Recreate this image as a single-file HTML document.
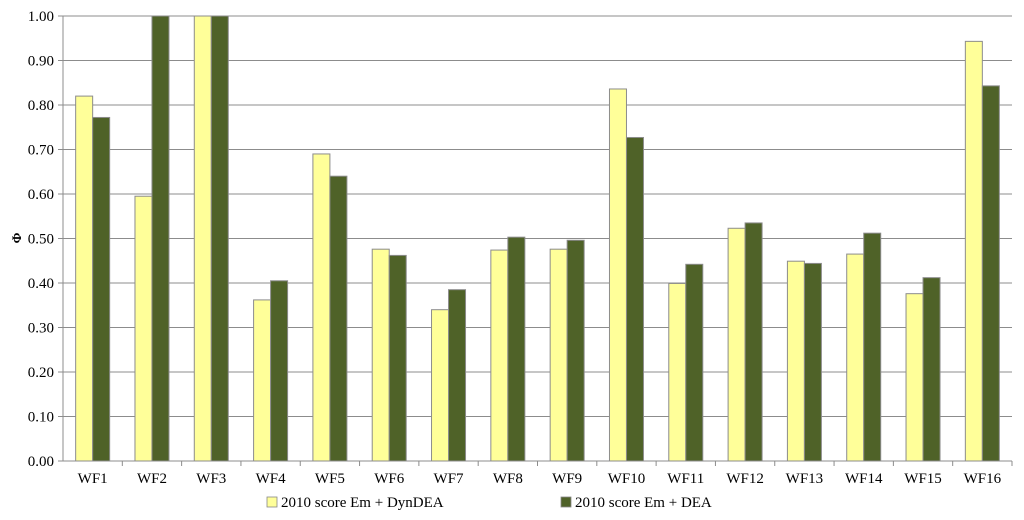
<!DOCTYPE html>
<html><head><meta charset="utf-8"><style>
html,body{margin:0;padding:0;background:#fff;width:1024px;height:520px;overflow:hidden}
svg text{font-family:"Liberation Serif","Times New Roman",serif !important;fill:#000}
</style></head><body>
<svg id="chart" width="1024" height="520" xmlns="http://www.w3.org/2000/svg" font-family="Liberation Serif, serif">
<g id="grid"></g>
<g id="yaxis"></g>
<g id="bars"></g>
<g id="xaxis"></g>
<text x="16" y="243" font-size="13" font-weight="bold" text-anchor="middle" transform="rotate(-90 16 238)">Φ</text>
<g>
<g>
<rect x="267" y="497" width="10" height="10" fill="#ffff99" stroke="#888" stroke-width="0.8"/>
<text x="281" y="507" font-size="15">2010 score Em + DynDEA</text></g>
<g>
<rect x="561" y="497" width="10" height="10" fill="#4f6228" stroke="#888" stroke-width="0.8"/>
<text x="575" y="507" font-size="15">2010 score Em + DEA</text></g>
</g>
</svg>
<script>
const categories=["WF1","WF2","WF3","WF4","WF5","WF6","WF7","WF8","WF9","WF10","WF11","WF12","WF13","WF14","WF15","WF16"];
const dynDEA=[0.82,0.595,1.0,0.362,0.69,0.476,0.34,0.474,0.476,0.836,0.399,0.523,0.449,0.465,0.376,0.943];
const dea=[0.772,1.0,1.0,0.405,0.64,0.462,0.385,0.503,0.496,0.727,0.442,0.535,0.444,0.512,0.412,0.843];
const yTicks=[0,0.1,0.2,0.3,0.4,0.5,0.6,0.7,0.8,0.9,1.0];
const NS="http://www.w3.org/2000/svg";
const X0=63,X1=1012,Y0=461,Y1=16;
const bw=(X1-X0)/categories.length;
const y=v=>Y0-(v/1)*(Y0-Y1);
function mk(t,a,p){const e=document.createElementNS(NS,t);for(const k in a)e.setAttribute(k,a[k]);p.appendChild(e);return e;}
const grid=document.getElementById('grid'),ya=document.getElementById('yaxis'),bars=document.getElementById('bars'),xa=document.getElementById('xaxis');
yTicks.forEach(v=>{
 if(v>0){const l=mk('line',{x1:X0,x2:X1,y1:y(v),y2:y(v),stroke:'#8c8c8c','stroke-width':1},grid);
 
 }
 const tk=mk('line',{x1:X0-5,x2:X0,y1:y(v),y2:y(v),stroke:'#8c8c8c'},ya);
 
 
 const t=mk('text',{x:X0-9,y:y(v)+5,'font-size':15,'text-anchor':'end'},ya);t.textContent=v.toFixed(2);
 
 
});
const al=mk('line',{x1:X0,x2:X0,y1:Y1,y2:Y0,stroke:'#8c8c8c'},ya);


const xl=mk('line',{x1:X0,x2:X1,y1:Y0,y2:Y0,stroke:'#8c8c8c'},xa);


const w=17;
categories.forEach((c,i)=>{
 const cx=X0+bw*(i+0.5);
 const b1=mk('rect',{x:cx-w,y:y(dynDEA[i]),width:w,height:Y0-y(dynDEA[i]),fill:'#ffff99',stroke:'#8c8c8c','stroke-width':1},bars);
 
 
 const b2=mk('rect',{x:cx,y:y(dea[i]),width:w,height:Y0-y(dea[i]),fill:'#4f6228',stroke:'#8c8c8c','stroke-width':1},bars);
 
 
 const tk=mk('line',{x1:X0+bw*(i+1),x2:X0+bw*(i+1),y1:Y0,y2:Y0+5,stroke:'#8c8c8c'},xa);
 
 
 const t=mk('text',{x:cx,y:Y0+22,'font-size':15,'text-anchor':'middle'},xa);t.textContent=c;
 
 
});
</script>
</body></html>
